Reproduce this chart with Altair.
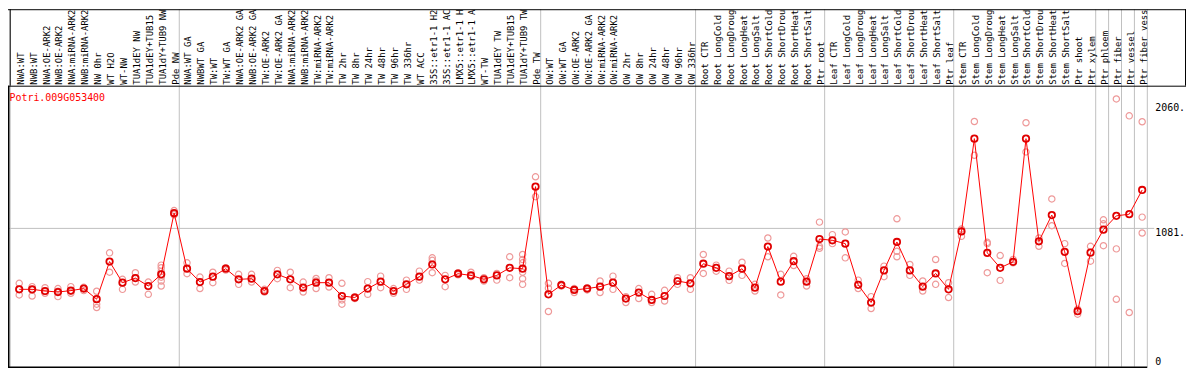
import altair as alt
import pandas as pd

GENE = "Potri.009G053400"

LABELS = [
    "NWA:WT", "NWB:WT", "NWA:OE-ARK2", "NWB:OE-ARK2", "NWA:miRNA-ARK2", "NWB:miRNA-ARK2",
    "NW 0hr", "WT H2O", "WT-NW", "TUA1dEY NW", "TUA1dEY+TUB15", "TUA1dY+TUB9 NW", "Pde NW",
    "NWA:WT GA", "NWBWT GA", "TW:WT", "TW:WT GA", "NWA:OE-ARK2 GA", "NWB:OE-ARK2 GA",
    "TW:OE-ARK2", "TW:OE-ARK2 GA", "NWA:miRNA-ARK2", "NWB:miRNA-ARK2", "TW:miRNA-ARK2",
    "TW:miRNA-ARK2", "TW 2hr", "TW 8hr", "TW 24hr", "TW 48hr", "TW 96hr", "TW 336hr",
    "WT ACC", "35S::etr1-1 H2", "35S::etr1-1 AC", "LMX5::etr1-1 H", "LMX5::etr1-1 A",
    "WT-TW", "TUA1dEY TW", "TUA1dEY+TUB15", "TUA1dY+TUB9 TW", "Pde TW",
    "OW:WT", "OW:WT GA", "OW:OE-ARK2", "OW:OE-ARK2 GA", "OW:miRNA-ARK2", "OW:miRNA-ARK2",
    "OW 2hr", "OW 8hr", "OW 24hr", "OW 48hr", "OW 96hr", "OW 336hr",
    "Root CTR", "Root LongCold", "Root LongDroug", "Root LongHeat", "Root LongSalt",
    "Root ShortCold", "Root ShortDrou", "Root ShortHeat", "Root ShortSalt", "Ptr root",
    "Leaf CTR", "Leaf LongCold", "Leaf LongDroug", "Leaf LongHeat", "Leaf LongSalt",
    "Leaf ShortCold", "Leaf ShortDrou", "Leaf ShortHeat", "Leaf ShortSalt", "Ptr leaf",
    "Stem CTR", "Stem LongCold", "Stem LongDroug", "Stem LongHeat", "Stem LongSalt",
    "Stem ShortCold", "Stem ShortDrou", "Stem ShortHeat", "Stem ShortSalt", "Ptr shoot",
    "Ptr xylem",
    "Ptr phloem", "Ptr fiber", "Ptr vessel", "Ptr fiber vess",
]

GROUP_SIZES = [13, 28, 12, 10, 10, 11, 1, 1, 1, 1]

MEANS = [
    605, 605, 592, 584, 595, 611, 528, 822, 657, 693, 631, 722, 1200,
    766, 662, 704, 766, 683, 688, 592, 722, 683, 618, 657, 657, 553, 541, 611,
    665, 592, 644, 704, 799, 683, 727, 714, 683, 714, 773, 766, 1407,
    566, 638, 600, 611, 626, 657, 533, 580, 522, 553, 670, 652,
    805, 773, 708, 766, 618, 939, 665, 825, 665, 998,
    988, 962, 640, 502, 753, 975, 753, 626, 729, 605,
    1057, 1782, 890, 773, 820, 1782, 980, 1185, 898, 434, 892,
    1071, 1179, 1192, 1381,
]

REPS = [
    [652, 605, 561], [626, 600, 553], [618, 590, 574], [611, 590, 548], [626, 590, 574],
    [621, 611, 595], [590, 489, 463], [890, 739], [683, 605], [735, 662, 693],
    [662, 566], [794, 773, 745, 700, 670, 631], [1220, 1187, 1195],
    [812, 727], [701, 611], [739, 657], [773, 755], [722, 644], [722, 662], [605, 584],
    [753, 688], [739, 618], [662, 584], [690, 611, 670], [696, 623], [652, 522, 489],
    [548, 533], [665, 566], [708, 618], [611, 574], [677, 605], [747, 677],
    [851, 832, 735], [714, 626], [735, 719], [739, 704], [696, 670], [729, 677],
    [859, 696], [877, 838, 812, 739, 688, 644], [1484, 1329],
    [652, 614, 432], [644, 631], [611, 580], [618, 600], [670, 580], [708, 605],
    [548, 502], [611, 533], [566, 502], [597, 514], [696, 644], [696, 605],
    [877, 729], [794, 747], [747, 675], [817, 714], [644, 592], [1006, 859],
    [722, 561], [863, 791], [688, 631], [1130, 941, 926],
    [1032, 962], [1053, 851], [677, 611], [548, 455], [786, 704], [1156, 902, 859],
    [799, 714], [670, 592], [838, 644], [657, 541],
    [1076, 1019], [1916, 1652], [972, 962, 735], [869, 675], [838, 812], [1906, 1678],
    [1006, 941], [1311, 1102], [962, 807], [450, 411], [941, 825],
    [1148, 1117, 946], [2092, 921, 527], [1960, 424], [1914, 1169, 1045],
]

Y_TICKS = [0, 1081, 2060]
Y_TICK_LABELS = ["0", "1081.", "2060."]
GRID_VALUES = [1081]

assert len(LABELS) == len(MEANS) == len(REPS) == sum(GROUP_SIZES)

# ---- layout / style constants (pixels in the SVG) ----
W, H = 1186, 362
STEP = 12.995
FIRST_X = 11.3
X0 = -FIRST_X / STEP
X1 = X0 + W / STEP
PX_PER_UNIT = 0.1289
Y_ZERO_PX = 360
Y0 = -(H - Y_ZERO_PX) / PX_PER_UNIT
Y1 = Y0 + H / PX_PER_UNIT
HEADER_BOTTOM = 77
LABEL_BASE = 76
FONT = "DejaVu Sans Mono"

xs = alt.Scale(domain=[X0, X1], nice=False, zero=False)
ys = alt.Scale(domain=[Y0, Y1], nice=False, zero=False)

idx = list(range(len(LABELS)))
df_mean = pd.DataFrame({"i": idx, "label": LABELS, "v": MEANS})
rep_rows = [{"i": i, "v": r} for i, reps in enumerate(REPS) for r in reps]
df_rep = pd.DataFrame(rep_rows)

cum = []
total = 0
for g in GROUP_SIZES:
    total += g
    cum.append(total - 1 + 0.4)
df_sep = pd.DataFrame({"s": [-0.7] + cum})
df_left = pd.DataFrame({"s": [-0.7]})
df_grid = pd.DataFrame({"v": GRID_VALUES})
df_ticks = pd.DataFrame({"v": Y_TICKS, "t": Y_TICK_LABELS})
df_gene = pd.DataFrame({"g": [GENE]})
df_one = pd.DataFrame({"a": [0]})

X = alt.X("i:Q", scale=xs, axis=None)
Y = alt.Y("v:Q", scale=ys, axis=None)

grid = alt.Chart(df_grid).mark_rule(color="#c0c0c0", strokeWidth=1).encode(
    y=alt.Y("v:Q", scale=ys, axis=None), x=alt.value(0), x2=alt.value(1154)
)
seps = alt.Chart(df_sep).mark_rule(color="#c0c0c0", strokeWidth=1).encode(
    x=alt.X("s:Q", scale=xs, axis=None), y=alt.value(0), y2=alt.value(Y_ZERO_PX)
)
left_head = alt.Chart(df_left).mark_rule(color="black", strokeWidth=1).encode(
    x=alt.X("s:Q", scale=xs, axis=None), y=alt.value(0), y2=alt.value(HEADER_BOTTOM)
)
frame_top = alt.Chart(df_one).mark_rule(color="black", strokeWidth=1).encode(
    x=alt.value(0), x2=alt.value(W), y=alt.value(0.5)
)
frame_head = alt.Chart(df_one).mark_rule(color="black", strokeWidth=1).encode(
    x=alt.value(0), x2=alt.value(W), y=alt.value(HEADER_BOTTOM + 0.5)
)
frame_right = alt.Chart(df_one).mark_rule(color="black", strokeWidth=1).encode(
    x=alt.value(W - 0.5), y=alt.value(0), y2=alt.value(HEADER_BOTTOM)
)
frame_left = alt.Chart(df_one).mark_rule(color="black", strokeWidth=1.5).encode(
    x=alt.value(0.75), y=alt.value(HEADER_BOTTOM), y2=alt.value(Y_ZERO_PX + 1)
)
frame_bottom = alt.Chart(df_one).mark_rule(color="black", strokeWidth=1.5).encode(
    x=alt.value(0), x2=alt.value(1147), y=alt.value(Y_ZERO_PX + 0.5)
)

reps = alt.Chart(df_rep).mark_point(
    shape="circle", filled=False, color="#ee9999", size=40, strokeWidth=1.2, opacity=1
).encode(x=X, y=Y)

line = alt.Chart(df_mean).mark_line(color="#ff0000", strokeWidth=1).encode(x=X, y=Y)

means = alt.Chart(df_mean).mark_point(
    shape="circle", filled=False, color="#e00000", size=42, strokeWidth=1.8, opacity=1
).encode(x=X, y=Y)

head_labels = alt.Chart(df_mean).mark_text(
    angle=270, align="left", baseline="middle", font=FONT, fontSize=9, color="black", dy=1.5
).encode(x=X, y=alt.value(LABEL_BASE), text="label:N")

gene = alt.Chart(df_gene).mark_text(
    align="left", baseline="alphabetic", font=FONT, fontSize=10, color="#ff0000"
).encode(x=alt.value(1.5), y=alt.value(92.7), text="g:N")

ytick_top = alt.Chart(df_ticks).transform_filter("datum.v > 0").mark_text(
    align="left", baseline="top", font=FONT, fontSize=10, color="black"
).encode(x=alt.value(1155), y=alt.Y("v:Q", scale=ys, axis=None), text="t:N")

ytick_zero = alt.Chart(df_ticks).transform_filter("datum.v == 0").mark_text(
    align="left", baseline="bottom", font=FONT, fontSize=10, color="black"
).encode(x=alt.value(1155), y=alt.Y("v:Q", scale=ys, axis=None), text="t:N")

chart = alt.layer(
    grid, seps, left_head, frame_top, frame_head, frame_right, frame_left, frame_bottom,
    reps, line, means, head_labels, gene, ytick_top, ytick_zero,
).properties(
    width=W, height=H, autosize=alt.AutoSizeParams(type="none"), padding=0,
    background="white",
).configure_view(strokeWidth=0)

chart.save("out.html", embed_options={"renderer": "svg", "actions": False})
